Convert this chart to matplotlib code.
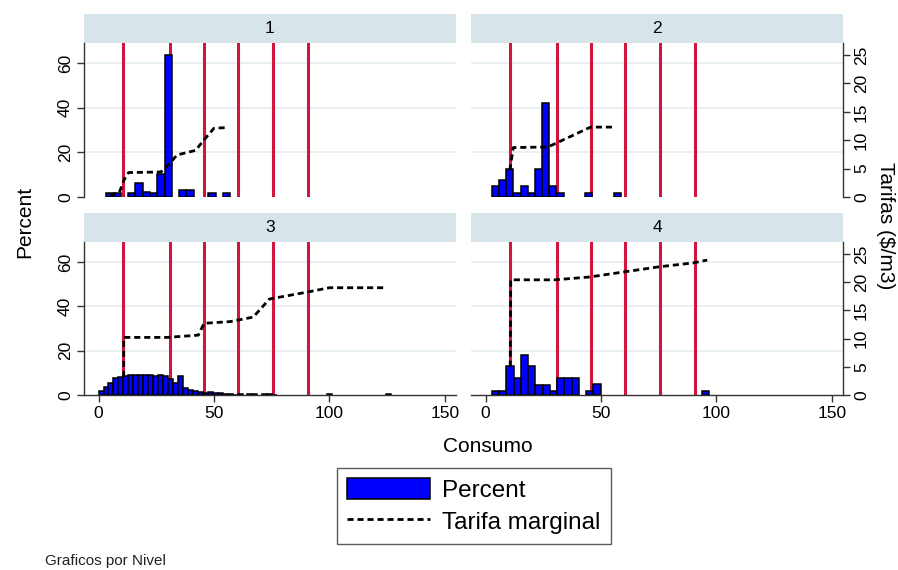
import matplotlib
matplotlib.use('Agg')
import matplotlib.pyplot as plt
from matplotlib.patches import Patch
from matplotlib.lines import Line2D

plt.rcParams['font.family'] = ['Liberation Sans', 'DejaVu Sans']

W, H = 898, 570

niveles = ['1', '2', '3', '4']

# limites de tramo (lineas rojas), en m3
cortes = [10.75, 30.75, 45.5, 60.5, 75.5, 90.5]

# histograma: inicio del primer bin, ancho del bin y porcentaje por bin
inicio = [3.4, 2.8, 0.0, 2.75]
ancho = [3.15, 3.1, 2.15, 3.14]
pct_1 = [1.6, 1.6, 0, 1.6, 6.4, 2.4, 1.6, 10.2, 63.6, 0, 3.0, 3.0, 0, 0, 1.6, 0, 1.6]
pct_2 = [5.0, 7.6, 12.4, 1.9, 5.0, 1.9, 12.4, 42.2, 5.0, 1.9, 0, 0, 0, 1.9, 0, 0, 0, 1.9]
pct_3 = [2.0, 3.5, 5.5, 7.5, 8.2, 8.6, 8.8, 8.8, 8.8, 8.8, 8.8, 8.6, 8.8, 8.6, 7.2,
         5.2, 8.6, 3.0, 2.2, 1.8, 1.4, 1.0, 1.2, 1.0, 0.7, 0.4, 0.3, 0.2,
         0.3, 0, 0.3, 0.3, 0, 0.3, 0.3, 0.2, 0, 0, 0, 0, 0, 0, 0, 0, 0, 0,
         0.3, 0, 0, 0, 0, 0, 0, 0, 0, 0, 0, 0, 0.3]
pct_4 = [1.6, 1.6, 12.9, 7.5, 18.0, 12.9, 4.5, 4.5, 1.6, 7.5, 7.5, 7.5, 0, 1.6, 5.0,
         0, 0, 0, 0, 0, 0, 0, 0, 0, 0, 0, 0, 0, 0, 1.6]
porcentajes = [pct_1, pct_2, pct_3, pct_4]

# tarifa marginal ($/m3) segun consumo
tar_x_1 = [5, 9, 11, 13, 27, 31, 34, 42, 46, 50, 55]
tar_y_1 = [0.3, 0.8, 3.0, 4.3, 4.4, 6.0, 7.4, 8.2, 10.2, 12.1, 12.2]
tar_x_2 = [10.5, 12, 27, 45.5, 56]
tar_y_2 = [4.7, 8.7, 8.8, 12.3, 12.3]
tar_x_3 = [10.9, 10.9, 13, 29.6, 43.2, 45.7, 57, 67, 74, 90, 100, 124]
tar_y_3 = [3.2, 10.2, 10.2, 10.2, 10.6, 12.7, 13.0, 13.8, 17.0, 18.2, 19.0, 19.0]
tar_x_4 = [10.7, 10.9, 30, 45, 60, 75, 90, 96]
tar_y_4 = [5.0, 20.4, 20.4, 20.9, 21.8, 22.7, 23.4, 23.9]
tarifas_x = [tar_x_1, tar_x_2, tar_x_3, tar_x_4]
tarifas_y = [tar_y_1, tar_y_2, tar_y_3, tar_y_4]

pct_ticks = [0, 20, 40, 60]
tar_ticks = [0, 5, 10, 15, 20, 25]
x_ticks = [0, 50, 100, 150]

rojo = '#D0163F'
franja = '#D7E4E9'
grilla = '#E6EFF1'
eje = '#333333'
guion = (0, (2.2, 1.4))


def px_axes(l, t, r, b):
    return fig.add_axes([l / W, 1 - b / H, (r - l) / W, (b - t) / H])


fig = plt.figure(figsize=(W / 100, H / 100), dpi=100)

cols = [(84, 456), (471, 843)]
rows = [(43, 197), (242, 395)]

for k in range(4):
    fila, col = k // 2, k % 2
    l, r = cols[col]
    t, b = rows[fila]

    # franja con el titulo del nivel
    st = px_axes(l, t - 29, r, t)
    st.set_facecolor(franja)
    st.set_xticks([])
    st.set_yticks([])
    for s in st.spines.values():
        s.set_visible(False)
    st.text(0.5, 0.5, niveles[k], ha='center', va='center', fontsize=12.5)

    ax = px_axes(l, t, r, b)
    ax.set_xlim(-6.3, 154.8)
    ax.set_ylim(0, 69)
    for g in pct_ticks[1:]:
        ax.axhline(g, color=grilla, lw=1.3, zorder=0)
    for c in cortes:
        ax.axvline(c, color=rojo, lw=2.2, zorder=1)

    xs = [inicio[k] + i * ancho[k] for i, v in enumerate(porcentajes[k]) if v > 0]
    hs = [v for v in porcentajes[k] if v > 0]
    ax.bar(xs, hs, width=ancho[k], align='edge', color='blue',
           edgecolor='black', lw=1.1, zorder=2)

    ax2 = ax.twinx()
    ax2.set_ylim(0, 27.1)
    ax2.plot(tarifas_x[k], tarifas_y[k], color='black', lw=2.0, ls=guion, zorder=3)

    for a in (ax, ax2):
        a.spines['top'].set_visible(False)
        for s in a.spines.values():
            s.set_color(eje)
            s.set_linewidth(1.0)
        a.tick_params(colors=eje, length=5, width=1.0, labelsize=12.5,
                      labelcolor='black', pad=3)

    ax.spines['right'].set_visible(False)
    ax2.spines['left'].set_visible(False)

    if col == 0:
        ax.set_yticks(pct_ticks)
        ax.set_yticklabels([str(v) for v in pct_ticks], rotation=90, va='center')
        ax2.spines['right'].set_visible(False)
        ax2.set_yticks([])
    else:
        ax.spines['left'].set_visible(False)
        ax.set_yticks([])
        ax2.set_yticks(tar_ticks)
        ax2.set_yticklabels([str(v) for v in tar_ticks], rotation=90, va='center')

    if fila == 1:
        ax.set_xticks(x_ticks)
        ax.set_xticklabels([str(v) for v in x_ticks])
    else:
        ax.spines['bottom'].set_visible(False)
        ax.set_xticks([])
    ax2.spines['bottom'].set_visible(False)

fig.text(25 / W, 1 - 222 / H, 'Percent', rotation=90, ha='center', va='center',
         fontsize=15)
fig.text(885 / W, 1 - 226 / H, 'Tarifas ($/m3)', rotation=-90, ha='center',
         va='center', fontsize=15)
fig.text(488 / W, 1 - 447 / H, 'Consumo', ha='center', va='center', fontsize=15)

handles = [Patch(facecolor='blue', edgecolor='black', lw=1.1),
           Line2D([0], [0], color='black', lw=2.0, ls=guion)]
leg = fig.legend(handles, ['Percent', 'Tarifa marginal'], loc='upper center',
                 bbox_to_anchor=(474 / W, 1 - 468 / H), fontsize=17.5,
                 frameon=True, fancybox=False, handlelength=3.4,
                 handleheight=0.95, borderpad=0.42, labelspacing=0.33,
                 handletextpad=0.5, borderaxespad=0)
leg.get_frame().set_edgecolor(eje)
leg.get_frame().set_linewidth(1.0)

fig.text(45 / W, 1 - 561 / H, 'Graficos por Nivel', ha='left', va='center',
         fontsize=11, color='#222222')

fig.savefig('out.png', dpi=100)
